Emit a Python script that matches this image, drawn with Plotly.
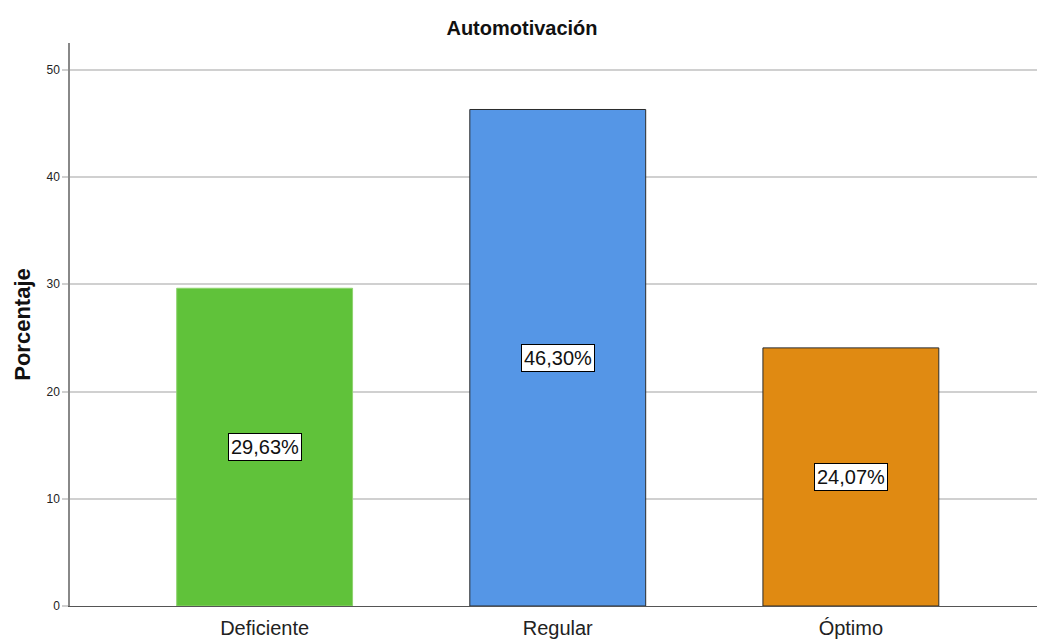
import plotly.graph_objects as go

categories = ["Deficiente", "Regular", "Óptimo"]
values = [29.63, 46.30, 24.07]
labels = ["29,63%", "46,30%", "24,07%"]
colors = ["#60c23a", "#5596e6", "#e08a12"]
outline = ["#8fd36f", "#2b2b2b", "#2b2b2b"]
y_ticks = [0, 10, 20, 30, 40, 50]

fig = go.Figure()
fig.add_trace(go.Bar(
    x=list(range(len(categories))), y=values,
    marker=dict(color=colors, line=dict(color=outline, width=1)),
    width=0.6, hoverinfo="skip",
))

for i, (v, lab) in enumerate(zip(values, labels)):
    fig.add_annotation(
        x=i, y=v / 2, text=lab, showarrow=False,
        font=dict(family="Liberation Sans, Arial", size=20, color="#111"),
        bgcolor="white", bordercolor="black", borderwidth=1, borderpad=2,
    )

fig.update_layout(
    width=1037, height=639,
    margin=dict(l=70, r=0, t=43, b=33),
    plot_bgcolor="white", paper_bgcolor="white",
    showlegend=False,
    font=dict(family="Liberation Sans, Arial", color="#222"),
    title=dict(text="<b>Automotivación</b>", x=522 / 1037, xanchor="center",
               y=1 - 28 / 639, yanchor="middle",
               font=dict(size=20, color="#111")),
)
fig.update_xaxes(
    range=[-0.664, 2.635],
    tickvals=list(range(len(categories))), ticktext=categories,
    tickfont=dict(size=20, color="#222"),
    showgrid=False, zeroline=False,
    showline=True, linecolor="#555", linewidth=1,
    ticks="", ticklabelstandoff=4, automargin=False,
)
fig.update_yaxes(
    range=[0, 52.5], tickvals=y_ticks,
    tickfont=dict(size=12, color="#222"),
    showgrid=True, gridcolor="#d0d0d0", gridwidth=2,
    zeroline=False, automargin=False,
    showline=True, linecolor="#888", linewidth=1.5,
    ticks="outside", ticklen=6, tickcolor="#d0d0d0", tickwidth=2,
    title=dict(text="<b>Porcentaje</b>", font=dict(size=22, color="#111"), standoff=10),
)

post = (
    "document.body.style.margin='0';"
    "document.body.style.overflow='hidden';"
    "var gd=document.getElementById('{plot_id}');"
    "Plotly.relayout(gd,{width:1037,height:639});"
)
fig.write_html("out.html", post_script=post,
               config={"responsive": False, "displayModeBar": False})
